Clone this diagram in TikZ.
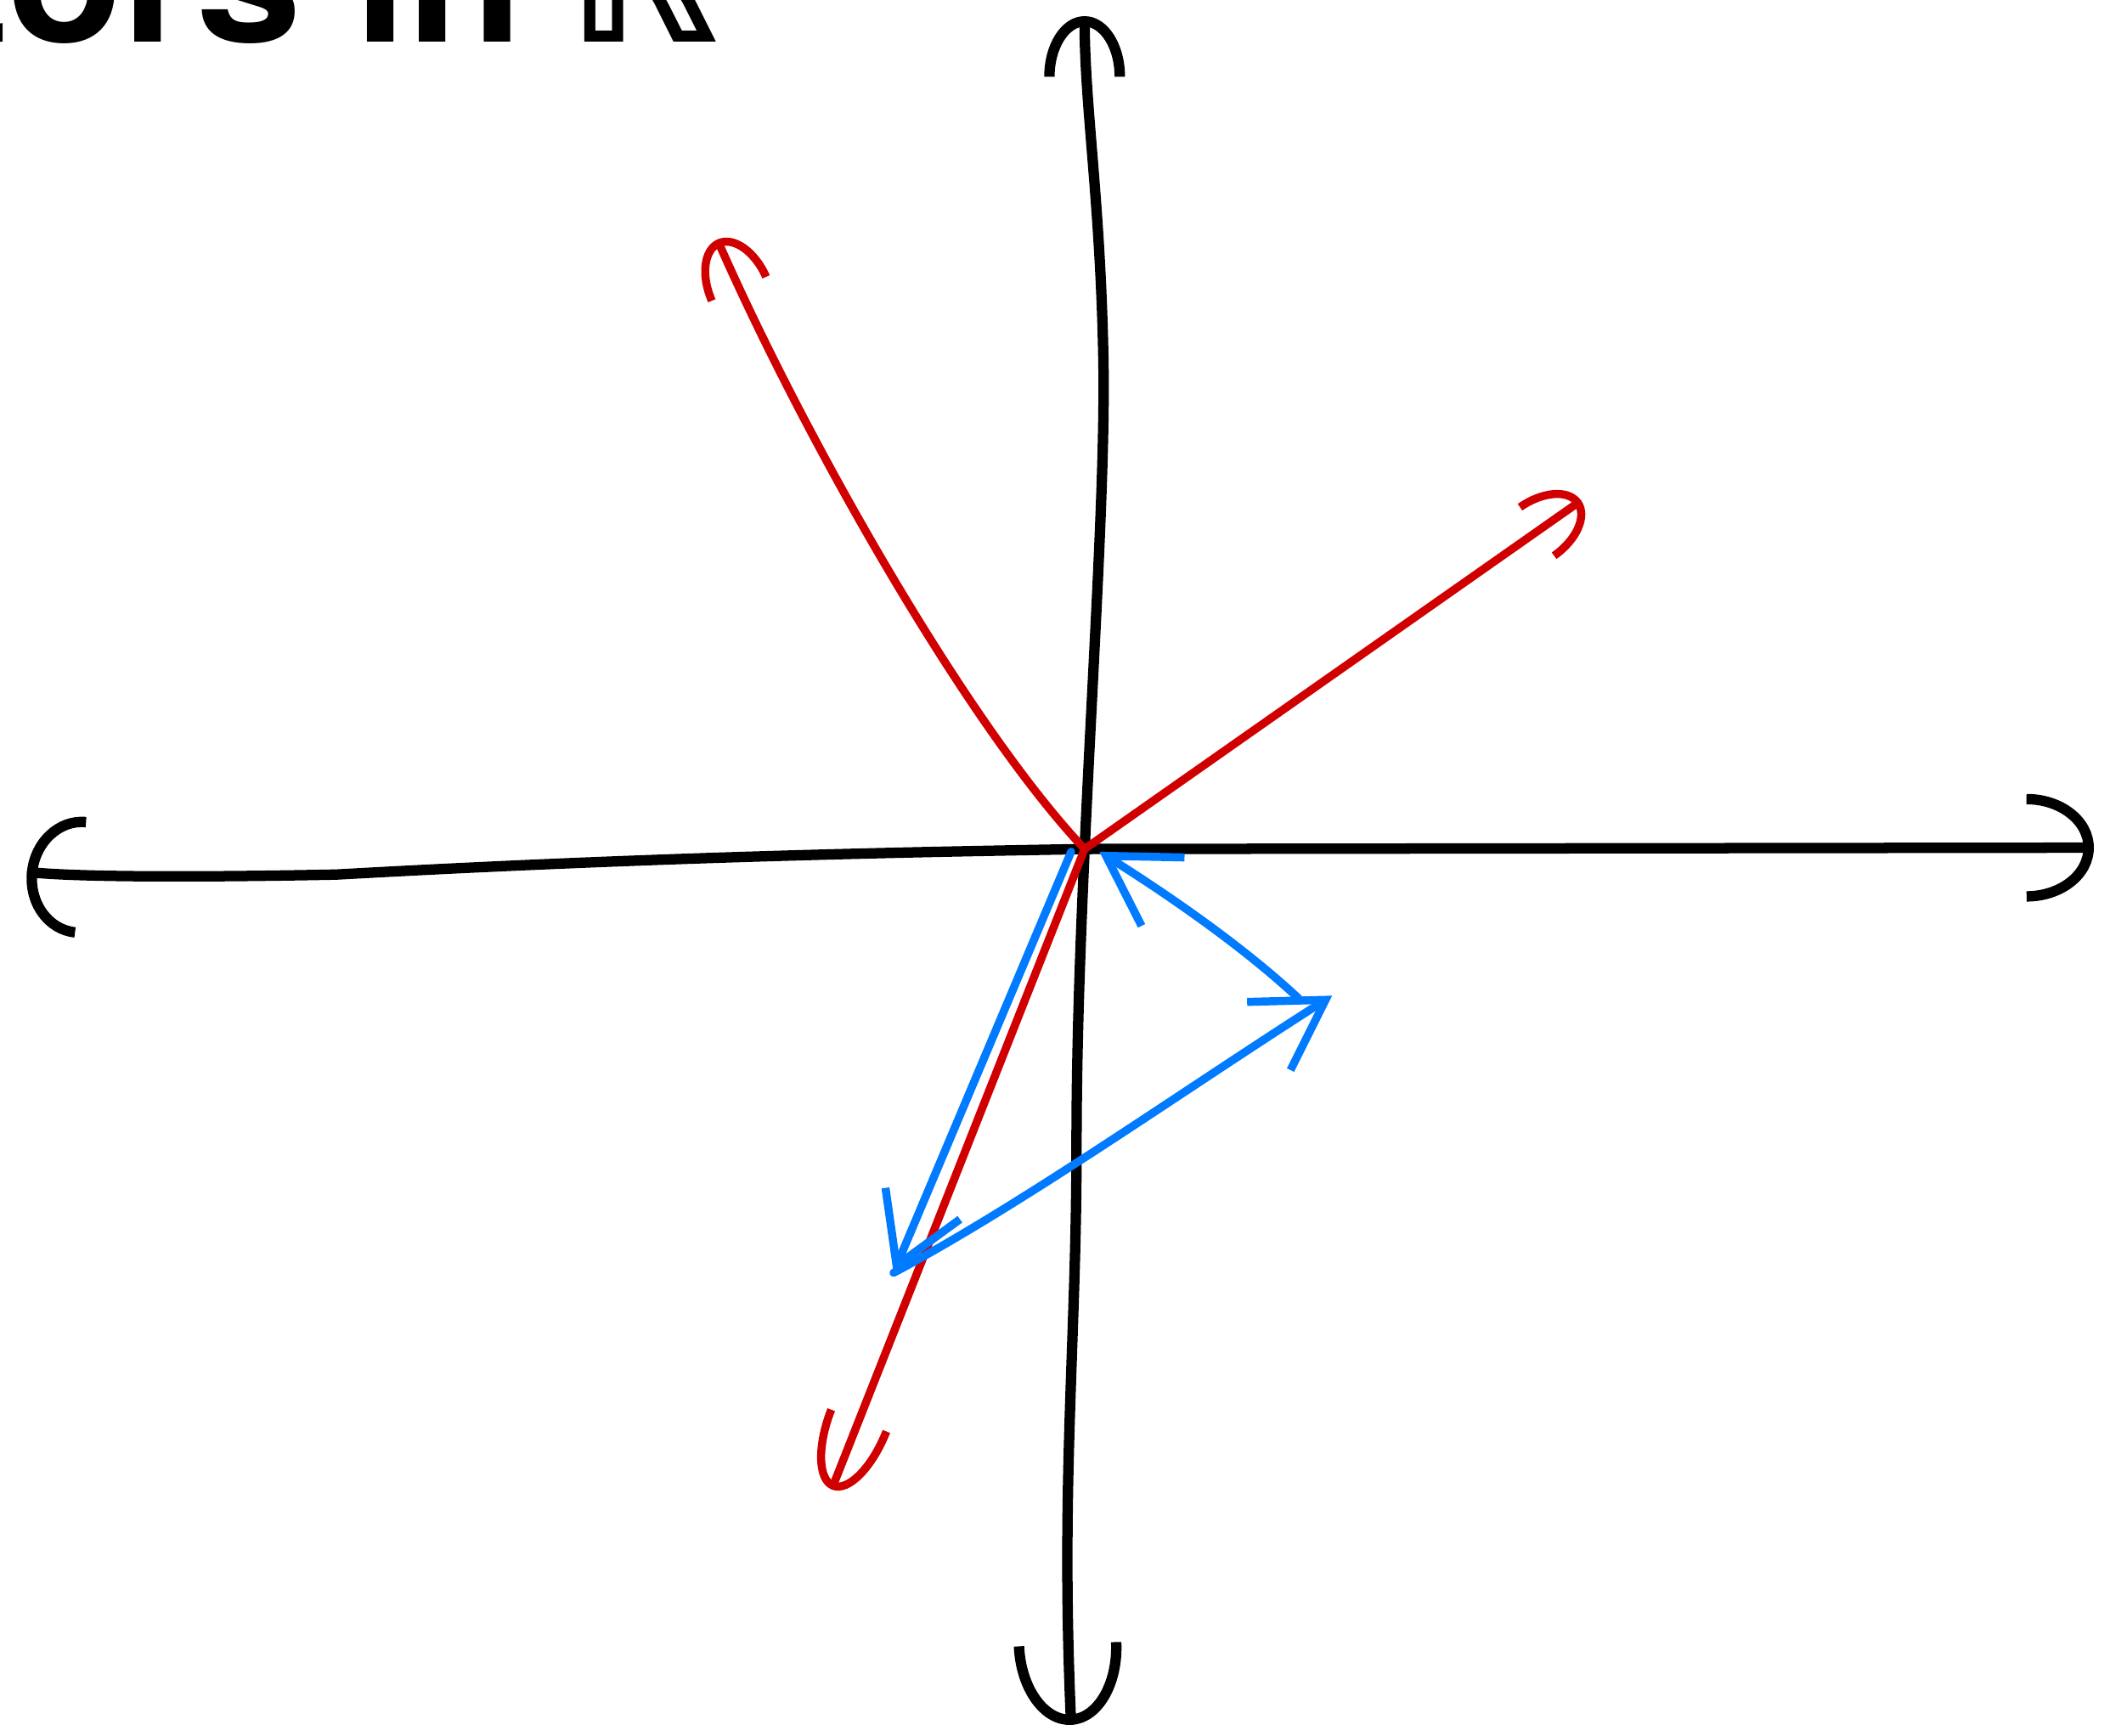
\documentclass[tikz,border=0pt]{standalone}
\usepackage{fontspec}
\setsansfont{TeX Gyre Heros}
\newfontfamily\symfont{DejaVu Sans}
\usetikzlibrary{arrows.meta}
\definecolor{penred}{RGB}{208,0,0}
\definecolor{penblue}{RGB}{0,122,255}

\begin{document}
\begin{tikzpicture}[x=0.01cm, y=-0.01cm,
	axis/.style={line width=2.2pt, line cap=round, line join=round},
	redvec/.style={penred, line width=1.7pt, line cap=round, -{Arc Barb[length=4mm, width=5mm]}},
	bluevec/.style={penblue, line width=1.7pt, line cap=round, line join=round, -{Straight Barb[length=5mm, width=6mm]}}]
	\useasboundingbox (0,0) rectangle (1568,1290);
	% Title, cut off by the top edge
	\node[anchor=base west, inner sep=0, font=\sffamily\bfseries\fontsize{40}{48}\selectfont] (title) at (-285,31) {Vectors in\hspace{-2pt} {\symfont ℝ}};
	% Axes
	\coordinate (O) at (806,631);
	\coordinate (xl) at (20,648);
	\coordinate (xr) at (1556,630);
	\coordinate (yt) at (806,12);
	\coordinate (yb) at (796,1282);
	\draw[axis, {Arc Barb[length=4mm, width=9mm]}-{Arc Barb[length=5mm, width=8mm]}] (xl) .. controls (60,652) and (150,652) .. (250,650) .. controls (500,636) and (700,633) .. (O) -- (xr);
	\draw[axis, {Arc Barb[length=6mm, width=8mm]}-{Arc Barb[length=4.5mm, width=6mm]}] (yb) .. controls (788,1100) and (800,1000) .. (800,850) .. controls (800,650) and (822,400) .. (820,270) .. controls (818,150) and (806,80) .. (yt);
	% Red vectors
	\coordinate (r1) at (533,178);
	\coordinate (r2) at (1175,372);
	\coordinate (r3) at (618,1107);
	\draw[redvec] (O) .. controls (720,540) and (600,330) .. (r1);
	\draw[redvec] (O) -- (r2);
	\draw[redvec, -{Arc Barb[length=5.5mm, width=5mm]}] (O) -- (r3);
	% Blue triangle
	\coordinate (u1) at (796,633);
	\coordinate (u2) at (664,946);
	\coordinate (u3) at (990,740);
	\coordinate (u4) at (965,742);
	\coordinate (u5) at (817,633);
	\draw[bluevec] (u1) -- (u2);
	\draw[bluevec] (u2) .. controls (760,895) and (880,810) .. (u3);
	\draw[bluevec] (u4) .. controls (920,700) and (860,660) .. (u5);
\end{tikzpicture}
\end{document}
